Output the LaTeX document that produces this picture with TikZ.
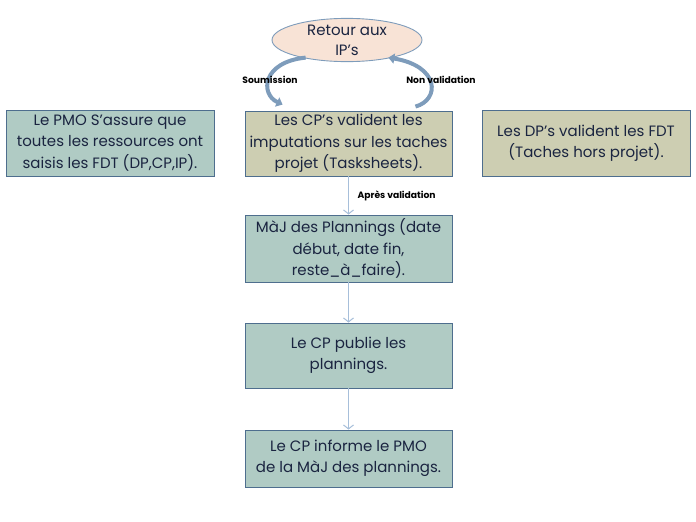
\documentclass[tikz,border=0pt]{standalone}
\usepackage{fontspec}
\setmainfont{Poppins}
\usetikzlibrary{arrows.meta,shapes.geometric}
\definecolor{tealbox}{HTML}{B0CBC4}
\definecolor{khaki}{HTML}{CDCEB2}
\definecolor{bord}{HTML}{4E6E8E}
\definecolor{peach}{HTML}{F8E3D6}
\definecolor{txt}{HTML}{1A2440}
\definecolor{lblue}{HTML}{A7BFDA}
\definecolor{cblue}{HTML}{7E9CBB}
\tikzset{
  box/.style={draw=bord, line width=0.9pt, minimum width=207pt, align=center,
    text=txt, font=\fontsize{15}{21.5}\selectfont, inner sep=1pt},
  tbox/.style={box, fill=tealbox},
  kbox/.style={box, fill=khaki},
  vlink/.style={draw=lblue, line width=1.3pt, -{Straight Barb[length=4pt,width=10pt,line width=1pt]}},
  clink/.style={draw=cblue, line width=4pt, -{Triangle[length=6pt,width=10pt]}},
  lab/.style={font=\bfseries\fontsize{9.2}{10}\selectfont, text=black}
}
\begin{document}
\begin{tikzpicture}[x=1pt,y=-1pt]
\useasboundingbox (0,0) rectangle (696,522);
\node[ellipse, draw=cblue, line width=0.9pt, fill=peach, minimum width=150pt, minimum height=40pt, inner sep=0pt,
  align=center, text=txt, font=\fontsize{15}{20}\selectfont] (ell) at (347,40) {Retour aux\\IP’s};
\node[kbox, minimum height=65pt] (b1) at (348.5,143.5) {Les CP’s valident les\\imputations sur les taches\\projet (Tasksheets).};
\node[tbox, minimum height=66pt, minimum width=208pt] (left) at (110,143) {Le PMO S’assure que\\toutes les ressources ont\\saisis les FDT (DP,CP,IP).};
\node[kbox, minimum height=66pt, minimum width=208pt] (right) at (586,143) {Les DP’s valident les FDT\\(Taches hors projet).};
\node[tbox, minimum height=67pt] (b2) at (348.5,248.5) {MàJ des Plannings (date\\début, date fin,\\reste\_à\_faire).};
\node[tbox, minimum height=65pt] (b3) at (348.5,355.5) {Le CP publie les\\plannings.};
\node[tbox, minimum height=57pt] (b4) at (348.5,458.5) {Le CP informe le PMO\\de la MàJ des plannings.};
\draw[vlink] (b1) -- (b2);
\draw[vlink] (b2) -- (b3);
\draw[vlink] (b3) -- (b4);
\node[lab, anchor=west] (apres) at (354,196) {Après validation};
\draw[clink] ([xshift=12pt,yshift=-2pt]ell.south west) .. controls (262,62) and (260,94) .. ([xshift=38pt,yshift=6pt]b1.north west);
\draw[clink] ([xshift=-37pt,yshift=4pt]b1.north east) .. controls (440,100) and (440,66) .. ([xshift=-12pt,yshift=-2pt]ell.south east);
\node[lab] (soum) at (270,80) {Soumission};
\node[lab] (nonv) at (441,80) {Non validation};
\end{tikzpicture}
\end{document}
